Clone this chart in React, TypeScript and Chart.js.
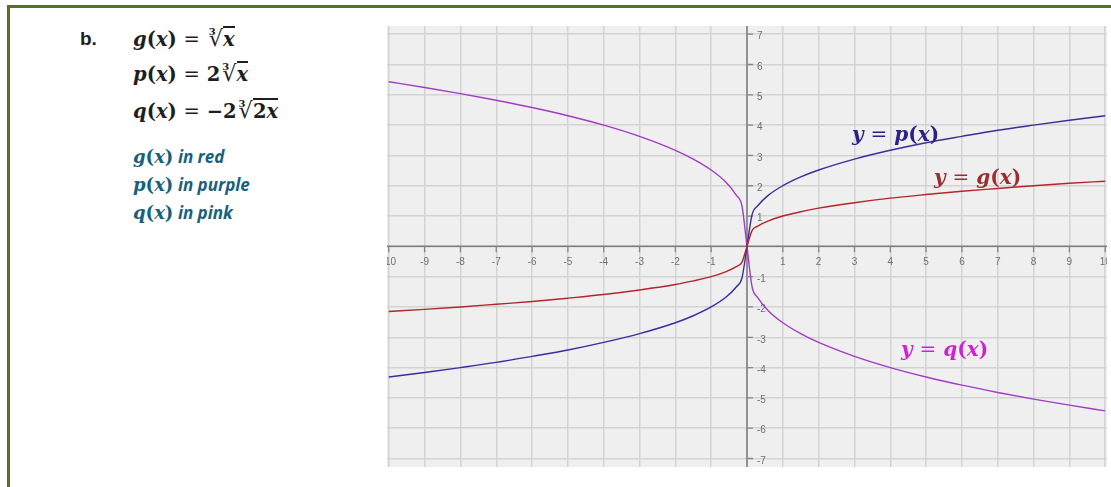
import React, { useEffect, useRef } from "react";
import { Chart, registerables } from "chart.js";

Chart.register(...registerables);

// ---- data ----
const xValues = [-10, -9, -8, -7, -6, -5, -4, -3, -2, -1.5, -1, -0.6, -0.3, -0.14, 0, 0.14, 0.3, 0.6, 1, 1.5, 2, 3, 4, 5, 6, 7, 8, 9, 10];
const gValues = [-2.15, -2.08, -2.0, -1.91, -1.82, -1.71, -1.59, -1.44, -1.26, -1.14, -1.0, -0.84, -0.67, -0.52, 0, 0.52, 0.67, 0.84, 1.0, 1.14, 1.26, 1.44, 1.59, 1.71, 1.82, 1.91, 2.0, 2.08, 2.15];
const pValues = [-4.31, -4.16, -4.0, -3.83, -3.63, -3.42, -3.17, -2.88, -2.52, -2.29, -2.0, -1.69, -1.34, -1.04, 0, 1.04, 1.34, 1.69, 2.0, 2.29, 2.52, 2.88, 3.17, 3.42, 3.63, 3.83, 4.0, 4.16, 4.31];
const qValues = [5.43, 5.24, 5.04, 4.82, 4.58, 4.31, 4.0, 3.63, 3.17, 2.88, 2.52, 2.13, 1.69, 1.33, 0, -1.33, -1.69, -2.13, -2.52, -2.88, -3.17, -3.63, -4.0, -4.31, -4.58, -4.82, -5.04, -5.24, -5.43];

const xTickValues = [-10, -9, -8, -7, -6, -5, -4, -3, -2, -1, 1, 2, 3, 4, 5, 6, 7, 8, 9, 10];
const xTickLabels = ["-10", "-9", "-8", "-7", "-6", "-5", "-4", "-3", "-2", "-1", "1", "2", "3", "4", "5", "6", "7", "8", "9", "10"];
const yTickValues = [-7, -6, -5, -4, -3, -2, -1, 1, 2, 3, 4, 5, 6, 7];
const yTickLabels = ["-7", "-6", "-5", "-4", "-3", "-2", "-1", "1", "2", "3", "4", "5", "6", "7"];

const X_MIN = -10.05;
const X_MAX = 10.05;
const Y_MIN = -7.28;
const Y_MAX = 7.27;

const toPoints = (ys: number[]) => xValues.map((x, i) => ({ x, y: ys[i] }));

const axesPlugin = {
  id: "customAxes",
  beforeDraw(chart: any) {
    const { ctx, chartArea } = chart;
    ctx.save();
    ctx.fillStyle = "#efefef";
    ctx.fillRect(chartArea.left, chartArea.top, chartArea.right - chartArea.left, chartArea.bottom - chartArea.top);
    ctx.restore();
  },
  beforeDatasetsDraw(chart: any) {
    const { ctx, chartArea, scales } = chart;
    const { left, right, top, bottom } = chartArea;
    const xs = scales.x;
    const ys = scales.y;
    const x0 = xs.getPixelForValue(0);
    const y0 = ys.getPixelForValue(0);
    ctx.save();
    ctx.beginPath();
    ctx.rect(left, top, right - left, bottom - top);
    ctx.clip();
    ctx.strokeStyle = "#7b7b7b";
    ctx.lineWidth = 1.5;
    ctx.beginPath();
    ctx.moveTo(left, y0);
    ctx.lineTo(right, y0);
    ctx.moveTo(x0, top);
    ctx.lineTo(x0, bottom);
    ctx.stroke();
    ctx.lineWidth = 1.3;
    ctx.strokeStyle = "#888888";
    ctx.beginPath();
    xTickValues.forEach((v) => {
      const px = xs.getPixelForValue(v);
      ctx.moveTo(px, y0);
      ctx.lineTo(px, y0 + 6);
    });
    yTickValues.forEach((v) => {
      const py = ys.getPixelForValue(v);
      ctx.moveTo(x0, py);
      ctx.lineTo(x0 + 6, py);
    });
    ctx.stroke();
    ctx.fillStyle = "#6c7078";
    ctx.font = "10px 'Liberation Sans', Arial, sans-serif";
    ctx.textAlign = "center";
    ctx.textBaseline = "middle";
    xTickValues.forEach((v, i) => {
      ctx.fillText(xTickLabels[i], xs.getPixelForValue(v), y0 + 16);
    });
    ctx.textAlign = "left";
    yTickValues.forEach((v, i) => {
      ctx.fillText(yTickLabels[i], x0 + 10, ys.getPixelForValue(v) + 2.5);
    });
    ctx.restore();
  },
};

const mathFont = "'DejaVu Serif', serif";
const I = ({ children }: any) => <span style={{ fontStyle: "italic" }}>{children}</span>;

const Rad = ({ children, color }: any) => (
  <span style={{ position: "relative", display: "inline-block", paddingLeft: 1, marginLeft: 1 }}>
    <span style={{ position: "absolute", left: 1, top: 1, fontSize: 10, fontStyle: "normal", fontWeight: "bold", lineHeight: "10px" }}>3</span>
    <span style={{ fontWeight: "normal", display: "inline-block", fontSize: "1.15em", lineHeight: 1 }}>√</span>
    <span style={{ borderTop: `2px solid ${color}`, paddingTop: 2, display: "inline-block", lineHeight: "1em" }}>{children}</span>
  </span>
);

const Fx = ({ f }: any) => (
  <span>
    <I>{f}</I>(<I>x</I>)
  </span>
);

export default function App() {
  const canvasRef = useRef<HTMLCanvasElement | null>(null);

  useEffect(() => {
    if (!canvasRef.current) return;
    const chart = new Chart(canvasRef.current, {
      type: "line",
      data: {
        datasets: [
          { label: "g", data: toPoints(gValues), borderColor: "#b3262a", borderWidth: 1.4, pointRadius: 0, cubicInterpolationMode: "monotone", fill: false },
          { label: "p", data: toPoints(pValues), borderColor: "#3a2d9c", borderWidth: 1.4, pointRadius: 0, cubicInterpolationMode: "monotone", fill: false },
          { label: "q", data: toPoints(qValues), borderColor: "#a23cc6", borderWidth: 1.4, pointRadius: 0, cubicInterpolationMode: "monotone", fill: false },
        ],
      },
      options: {
        animation: false,
        responsive: true,
        maintainAspectRatio: false,
        layout: { padding: 0 },
        plugins: { legend: { display: false }, tooltip: { enabled: false } },
        scales: {
          x: {
            type: "linear",
            min: X_MIN,
            max: X_MAX,
            ticks: { display: false, stepSize: 1, includeBounds: false },
            grid: { color: "#d3d3d3", lineWidth: 1.5, drawTicks: false },
            border: { display: false },
          },
          y: {
            type: "linear",
            min: Y_MIN,
            max: Y_MAX,
            ticks: { display: false, stepSize: 1, includeBounds: false },
            grid: { color: "#d3d3d3", lineWidth: 1.5, drawTicks: false },
            border: { display: false },
          },
        },
      },
      plugins: [axesPlugin],
    } as any);
    return () => chart.destroy();
  }, []);

  const ink = "#1e1e1e";
  const teal = "#17607e";
  const sans = "'Open Sans', 'Noto Sans', sans-serif";

  return (
    <div style={{ position: "absolute", left: 0, top: 0, width: 1111, height: 487, background: "#fff", overflow: "hidden" }}>
      <div style={{ position: "absolute", left: 7, top: 5, width: 1300, height: 700, border: "3px solid #56702f", boxSizing: "border-box" }} />
      <div style={{ position: "absolute", left: 80, top: 28, fontFamily: "'Liberation Sans', Arial, sans-serif", fontWeight: "bold", fontSize: 19, color: ink }}>b.</div>
      <div style={{ position: "absolute", left: 133, top: 0, fontFamily: mathFont, fontWeight: "bold", fontSize: 19.5, color: ink, whiteSpace: "nowrap" }}>
        <div style={{ position: "absolute", top: 26 }}>
          <Fx f="g" /> <span style={{ fontWeight: "normal" }}>=</span> <Rad color={ink}><I>x</I></Rad>
        </div>
        <div style={{ position: "absolute", top: 61 }}>
          <Fx f="p" /> <span style={{ fontWeight: "normal" }}>=</span> 2<Rad color={ink}><I>x</I></Rad>
        </div>
        <div style={{ position: "absolute", top: 98 }}>
          <Fx f="q" /> <span style={{ fontWeight: "normal" }}>=</span> −2<Rad color={ink}>2<I>x</I></Rad>
        </div>
      </div>
      <div style={{ position: "absolute", left: 133, top: 143, color: teal, fontSize: 18, lineHeight: "27px", whiteSpace: "nowrap" }}>
        {[["g", "in red"], ["p", "in purple"], ["q", "in pink"]].map(([f, t]) => (
          <div key={f}>
            <span style={{ fontFamily: mathFont, fontWeight: "bold" }}><Fx f={f} /></span>{" "}
            <span style={{ fontFamily: sans, fontWeight: "bold", fontStyle: "italic", fontSize: 17 }}>{t}</span>
          </div>
        ))}
      </div>
      <div style={{ position: "absolute", left: 387, top: 26, width: 720, height: 441 }}>
        <canvas ref={canvasRef} />
      </div>
      {[
        { f: "p", left: 852, top: 120, color: "#2a2088" },
        { f: "g", left: 934, top: 163, color: "#9c2d2f" },
        { f: "q", left: 901, top: 335, color: "#d21fd2" },
      ].map((l) => (
        <div key={l.f} style={{ position: "absolute", left: l.left, top: l.top, fontFamily: mathFont, fontWeight: "bold", fontSize: 20, color: l.color, whiteSpace: "nowrap", lineHeight: "28px" }}>
          <I>y</I> <span style={{ fontWeight: "normal" }}>=</span> <Fx f={l.f} />
        </div>
      ))}
    </div>
  );
}
